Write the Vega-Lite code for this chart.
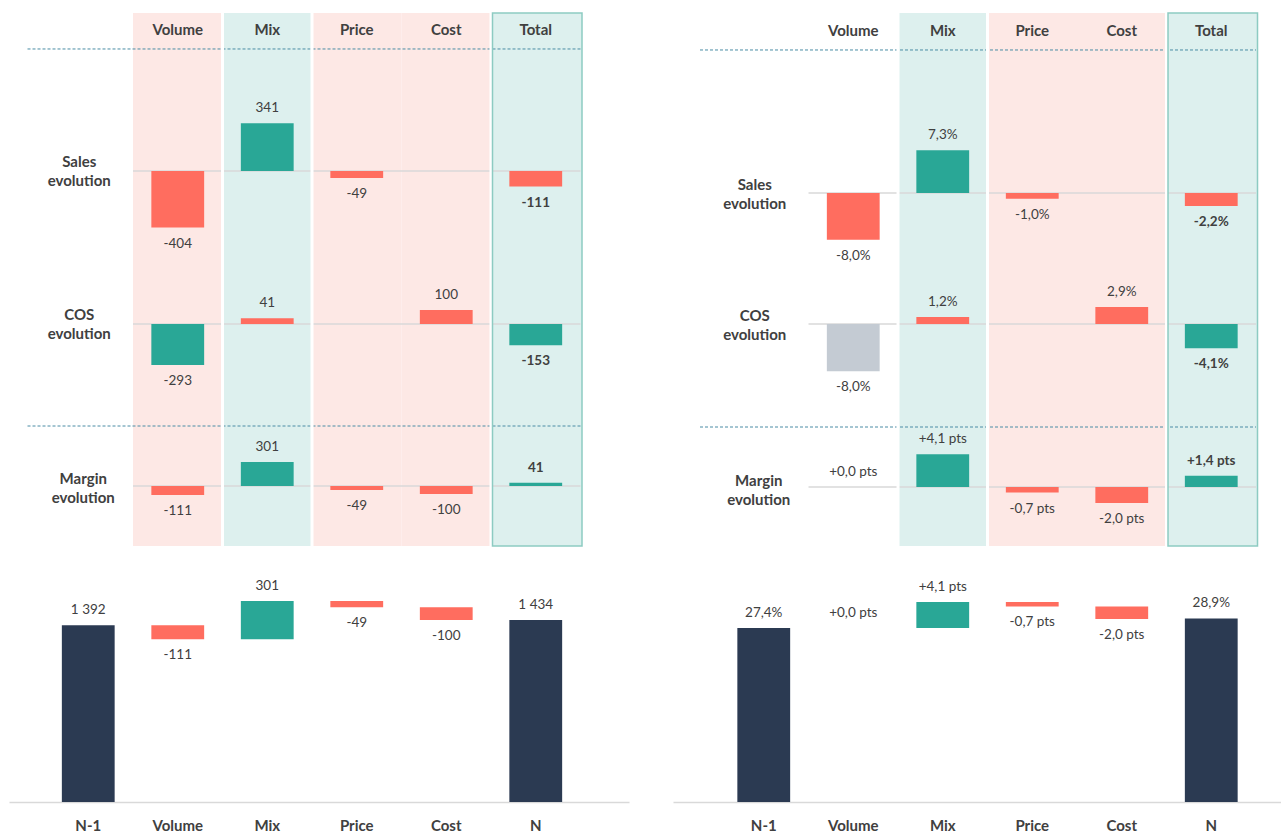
{
"$schema":"https://vega.github.io/schema/vega-lite/v6.json",
"padding":{"left":9,"top":11,"right":0,"bottom":0},
"background":"#ffffff",
"config":{"view":{"stroke":null},"font":"Lato"},
"datasets":{
"topL":[
{"row":"Sales","col":"Volume","v":-404,"label":"-404","tone":"bad"},
{"row":"Sales","col":"Mix","v":341,"label":"341","tone":"good"},
{"row":"Sales","col":"Price","v":-49,"label":"-49","tone":"bad"},
{"row":"Sales","col":"Total","v":-111,"label":"-111","tone":"bad"},
{"row":"COS","col":"Volume","v":-293,"label":"-293","tone":"good"},
{"row":"COS","col":"Mix","v":41,"label":"41","tone":"bad"},
{"row":"COS","col":"Cost","v":100,"label":"100","tone":"bad"},
{"row":"COS","col":"Total","v":-153,"label":"-153","tone":"good"},
{"row":"Margin","col":"Volume","v":-111,"label":"-111","tone":"bad"},
{"row":"Margin","col":"Mix","v":301,"label":"301","tone":"good"},
{"row":"Margin","col":"Price","v":-49,"label":"-49","tone":"bad"},
{"row":"Margin","col":"Cost","v":-100,"label":"-100","tone":"bad"},
{"row":"Margin","col":"Total","v":41,"label":"41","tone":"good"}
],
"topR":[
{"row":"Sales","col":"Volume","v":-8.0,"label":"-8,0%","tone":"bad"},
{"row":"Sales","col":"Mix","v":7.3,"label":"7,3%","tone":"good"},
{"row":"Sales","col":"Price","v":-1.0,"label":"-1,0%","tone":"bad"},
{"row":"Sales","col":"Total","v":-2.2,"label":"-2,2%","tone":"bad"},
{"row":"COS","col":"Volume","v":-8.0,"label":"-8,0%","tone":"neutral"},
{"row":"COS","col":"Mix","v":1.2,"label":"1,2%","tone":"bad"},
{"row":"COS","col":"Cost","v":2.9,"label":"2,9%","tone":"bad"},
{"row":"COS","col":"Total","v":-4.1,"label":"-4,1%","tone":"good"},
{"row":"Margin","col":"Volume","v":0,"label":"+0,0 pts","tone":"neutral"},
{"row":"Margin","col":"Mix","v":4.1,"label":"+4,1 pts","tone":"good"},
{"row":"Margin","col":"Price","v":-0.7,"label":"-0,7 pts","tone":"bad"},
{"row":"Margin","col":"Cost","v":-2.0,"label":"-2,0 pts","tone":"bad"},
{"row":"Margin","col":"Total","v":1.4,"label":"+1,4 pts","tone":"good"}
],
"heads":[{"col":"Volume"},{"col":"Mix"},{"col":"Price"},{"col":"Cost"},{"col":"Total"}],
"botL":[
{"cat":"N-1","start":0,"end":1392,"delta":1392,"label":"1 392","tone":"base"},
{"cat":"Volume","start":1392,"end":1281,"delta":-111,"label":"-111","tone":"bad"},
{"cat":"Mix","start":1281,"end":1582,"delta":301,"label":"301","tone":"good"},
{"cat":"Price","start":1582,"end":1533,"delta":-49,"label":"-49","tone":"bad"},
{"cat":"Cost","start":1533,"end":1433,"delta":-100,"label":"-100","tone":"bad"},
{"cat":"N","start":0,"end":1434,"delta":1434,"label":"1 434","tone":"base"}
],
"botR":[
{"cat":"N-1","start":0,"end":27.4,"delta":27.4,"label":"27,4%","tone":"base"},
{"cat":"Volume","start":27.4,"end":27.4,"delta":0,"label":"+0,0 pts","tone":"neutral"},
{"cat":"Mix","start":27.4,"end":31.5,"delta":4.1,"label":"+4,1 pts","tone":"good"},
{"cat":"Price","start":31.5,"end":30.8,"delta":-0.7,"label":"-0,7 pts","tone":"bad"},
{"cat":"Cost","start":30.8,"end":28.8,"delta":-2.0,"label":"-2,0 pts","tone":"bad"},
{"cat":"N","start":0,"end":28.9,"delta":28.9,"label":"28,9%","tone":"base"}
]
},
"spacing":24,
"vconcat":[
{"spacing":44,"hconcat":[
{
"width":620,"height":533,
"resolve":{"scale":{"y":"independent"}},
"layer":[
{"data":{"values":[{"col":"Volume"},{"col":"Price"},{"col":"Cost"}]},"mark":{"type":"rect","fill":"#FDE8E5"},
 "encoding":{"x":{"field":"col","type":"nominal","scale":{"domain":["lbl","Volume","Mix","Price","Cost","Total"],"paddingInner":0,"paddingOuter":0.4637,"align":0.4157},"axis":null}}},
{"data":{"values":[{"col":"Mix"}]},"mark":{"type":"rect","fill":"#DDF0EE"},"encoding":{"x":{"field":"col","type":"nominal","axis":null}}},
{"data":{"values":[{"col":"Total"}]},"mark":{"type":"rect","fill":"#DDF0EE","xOffset":1.5},"encoding":{"x":{"field":"col","type":"nominal","axis":null}}},
{"data":{"name":"topL"},"transform":[{"filter":"datum.row == 'Sales'"}],"layer":[
 {"data":{"values":[{}]},"mark":{"type":"rule","stroke":"#D9D9D9","strokeWidth":1.5},"encoding":{"x":{"datum":"Volume","type":"nominal","bandPosition":0,"axis":null},"x2":{"datum":"Total","bandPosition":1},"y":{"datum":0,"type":"quantitative","scale":{"domain":[-2679,1129],"nice":false,"zero":false},"axis":null}}},
 {"data":{"values":[{}]},"mark":{"type":"rule","stroke":"#4A8CA5","strokeWidth":1,"strokeDash":[3,2],"xOffset":-16},"encoding":{"x":{"datum":"lbl","type":"nominal","bandPosition":0,"axis":null},"x2":{"datum":"Total","bandPosition":1},"y":{"datum":872,"type":"quantitative","scale":{"domain":[-2679,1129],"nice":false,"zero":false},"axis":null}}},
 {"data":{"name":"heads"},"mark":{"type":"text","font":"Lato","fontSize":15,"fontWeight":"bold","fill":"#404040","align":"center","baseline":"middle"},"encoding":{"x":{"field":"col","type":"nominal","axis":null},"y":{"datum":1007.5,"type":"quantitative","axis":null},"text":{"field":"col"}}},
 {"mark":{"type":"bar","width":{"band":0.59}},"encoding":{"x":{"field":"col","type":"nominal","axis":null},"y":{"field":"v","type":"quantitative","scale":{"domain":[-2679,1129],"nice":false,"zero":false},"axis":null},"color":{"field":"tone","type":"nominal","scale":{"domain":["bad","good","neutral","base"],"range":["#FF6D5F","#29A796","#C4CBD3","#2B3A52"]},"legend":null}}},
 {"transform":[{"filter":"datum.v >= 0 && datum.col != 'Total'"}],"mark":{"type":"text","font":"Lato","fontSize":13.5,"fill":"#404040","align":"center","baseline":"middle","dy":-15},"encoding":{"x":{"field":"col","type":"nominal","axis":null},"y":{"field":"v","type":"quantitative","axis":null},"text":{"field":"label"}}},
 {"transform":[{"filter":"datum.v < 0 && datum.col != 'Total'"}],"mark":{"type":"text","font":"Lato","fontSize":13.5,"fill":"#404040","align":"center","baseline":"middle","dy":16},"encoding":{"x":{"field":"col","type":"nominal","axis":null},"y":{"field":"v","type":"quantitative","axis":null},"text":{"field":"label"}}},
 {"transform":[{"filter":"datum.col == 'Total'"}],"mark":{"type":"text","font":"Lato","fontSize":13.5,"fontWeight":"bold","fill":"#404040","align":"center","baseline":"middle","dy":16},"encoding":{"x":{"field":"col","type":"nominal","axis":null},"y":{"field":"v","type":"quantitative","axis":null},"text":{"field":"label"}}},
 {"data":{"values":[{}]},"mark":{"type":"text","font":"Lato","fontSize":15,"fontWeight":"bold","fill":"#404040","align":"center","baseline":"middle","lineHeight":19,"dx":-9,"dy":-9},"encoding":{"x":{"datum":"lbl","type":"nominal","axis":null},"y":{"datum":0,"type":"quantitative","axis":null},"text":{"value":["Sales","evolution"]}}}
]},
{"data":{"name":"topL"},"transform":[{"filter":"datum.row == 'COS'"}],"layer":[
 {"data":{"values":[{}]},"mark":{"type":"rule","stroke":"#D9D9D9","strokeWidth":1.5},"encoding":{"x":{"datum":"Volume","type":"nominal","bandPosition":0,"axis":null},"x2":{"datum":"Total","bandPosition":1},"y":{"datum":0,"type":"quantitative","scale":{"domain":[-1586,2221],"nice":false,"zero":false},"axis":null}}},
 {"mark":{"type":"bar","width":{"band":0.59}},"encoding":{"x":{"field":"col","type":"nominal","axis":null},"y":{"field":"v","type":"quantitative","scale":{"domain":[-1586,2221],"nice":false,"zero":false},"axis":null},"color":{"field":"tone","type":"nominal","scale":{"domain":["bad","good","neutral","base"],"range":["#FF6D5F","#29A796","#C4CBD3","#2B3A52"]},"legend":null}}},
 {"transform":[{"filter":"datum.v >= 0 && datum.col != 'Total'"}],"mark":{"type":"text","font":"Lato","fontSize":13.5,"fill":"#404040","align":"center","baseline":"middle","dy":-15},"encoding":{"x":{"field":"col","type":"nominal","axis":null},"y":{"field":"v","type":"quantitative","axis":null},"text":{"field":"label"}}},
 {"transform":[{"filter":"datum.v < 0 && datum.col != 'Total'"}],"mark":{"type":"text","font":"Lato","fontSize":13.5,"fill":"#404040","align":"center","baseline":"middle","dy":16},"encoding":{"x":{"field":"col","type":"nominal","axis":null},"y":{"field":"v","type":"quantitative","axis":null},"text":{"field":"label"}}},
 {"transform":[{"filter":"datum.col == 'Total'"}],"mark":{"type":"text","font":"Lato","fontSize":13.5,"fontWeight":"bold","fill":"#404040","align":"center","baseline":"middle","dy":16},"encoding":{"x":{"field":"col","type":"nominal","axis":null},"y":{"field":"v","type":"quantitative","axis":null},"text":{"field":"label"}}},
 {"data":{"values":[{}]},"mark":{"type":"text","font":"Lato","fontSize":15,"fontWeight":"bold","fill":"#404040","align":"center","baseline":"middle","lineHeight":19,"dx":-9,"dy":-9},"encoding":{"x":{"datum":"lbl","type":"nominal","axis":null},"y":{"datum":0,"type":"quantitative","axis":null},"text":{"value":["COS","evolution"]}}}
]},
{"data":{"name":"topL"},"transform":[{"filter":"datum.row == 'Margin'"}],"layer":[
 {"data":{"values":[{}]},"mark":{"type":"rule","stroke":"#D9D9D9","strokeWidth":1.5},"encoding":{"x":{"datum":"Volume","type":"nominal","bandPosition":0,"axis":null},"x2":{"datum":"Total","bandPosition":1},"y":{"datum":0,"type":"quantitative","scale":{"domain":[-750,5913],"nice":false,"zero":false},"axis":null}}},
 {"data":{"values":[{}]},"mark":{"type":"rule","stroke":"#4A8CA5","strokeWidth":1,"strokeDash":[3,2],"xOffset":-16},"encoding":{"x":{"datum":"lbl","type":"nominal","bandPosition":0,"axis":null},"x2":{"datum":"Total","bandPosition":1},"y":{"datum":750,"type":"quantitative","scale":{"domain":[-750,5913],"nice":false,"zero":false},"axis":null}}},
 {"mark":{"type":"bar","width":{"band":0.59}},"encoding":{"x":{"field":"col","type":"nominal","axis":null},"y":{"field":"v","type":"quantitative","scale":{"domain":[-750,5913],"nice":false,"zero":false},"axis":null},"color":{"field":"tone","type":"nominal","scale":{"domain":["bad","good","neutral","base"],"range":["#FF6D5F","#29A796","#C4CBD3","#2B3A52"]},"legend":null}}},
 {"transform":[{"filter":"datum.v >= 0 && datum.col != 'Total'"}],"mark":{"type":"text","font":"Lato","fontSize":13.5,"fill":"#404040","align":"center","baseline":"middle","dy":-15},"encoding":{"x":{"field":"col","type":"nominal","axis":null},"y":{"field":"v","type":"quantitative","axis":null},"text":{"field":"label"}}},
 {"transform":[{"filter":"datum.v < 0 && datum.col != 'Total'"}],"mark":{"type":"text","font":"Lato","fontSize":13.5,"fill":"#404040","align":"center","baseline":"middle","dy":16},"encoding":{"x":{"field":"col","type":"nominal","axis":null},"y":{"field":"v","type":"quantitative","axis":null},"text":{"field":"label"}}},
 {"transform":[{"filter":"datum.col == 'Total'"}],"mark":{"type":"text","font":"Lato","fontSize":13.5,"fontWeight":"bold","fill":"#404040","align":"center","baseline":"middle","dy":-15},"encoding":{"x":{"field":"col","type":"nominal","axis":null},"y":{"field":"v","type":"quantitative","axis":null},"text":{"field":"label"}}},
 {"data":{"values":[{}]},"mark":{"type":"text","font":"Lato","fontSize":15,"fontWeight":"bold","fill":"#404040","align":"center","baseline":"middle","lineHeight":19,"dx":-5,"dy":-7},"encoding":{"x":{"datum":"lbl","type":"nominal","axis":null},"y":{"datum":0,"type":"quantitative","axis":null},"text":{"value":["Margin","evolution"]}}}
]},
{"data":{"values":[{"col":"Mix"},{"col":"Price"},{"col":"Total"}]},"mark":{"type":"rule","stroke":"#ffffff","strokeWidth":3},"encoding":{"x":{"field":"col","type":"nominal","bandPosition":0,"axis":null}}},
{"data":{"values":[{"col":"Total"}]},"mark":{"type":"rect","fill":"transparent","stroke":"#8DCBC2","strokeWidth":1.5,"xOffset":1.5},"encoding":{"x":{"field":"col","type":"nominal","axis":null}}}
]
},
{
"width":608,"height":533,
"resolve":{"scale":{"y":"independent"}},
"layer":[
{"data":{"values":[{"col":"Price"},{"col":"Cost"}]},"mark":{"type":"rect","fill":"#FDE8E5"},
 "encoding":{"x":{"field":"col","type":"nominal","scale":{"domain":["lbl","Volume","Mix","Price","Cost","Total"],"paddingInner":0,"paddingOuter":0.3966,"align":0.648},"axis":null}}},
{"data":{"values":[{"col":"Mix"}]},"mark":{"type":"rect","fill":"#DDF0EE"},"encoding":{"x":{"field":"col","type":"nominal","axis":null}}},
{"data":{"values":[{"col":"Total"}]},"mark":{"type":"rect","fill":"#DDF0EE","xOffset":1.5},"encoding":{"x":{"field":"col","type":"nominal","axis":null}}},
{"data":{"name":"topR"},"transform":[{"filter":"datum.row == 'Sales'"}],"layer":[
 {"data":{"values":[{}]},"mark":{"type":"rule","stroke":"#D9D9D9","strokeWidth":1.5},"encoding":{"x":{"datum":"Volume","type":"nominal","bandPosition":0,"axis":null},"x2":{"datum":"Total","bandPosition":1},"y":{"datum":0,"type":"quantitative","scale":{"domain":[-60.34,30.77],"nice":false,"zero":false},"axis":null}}},
 {"data":{"values":[{}]},"mark":{"type":"rule","stroke":"#4A8CA5","strokeWidth":1,"strokeDash":[3,2],"xOffset":-19},"encoding":{"x":{"datum":"lbl","type":"nominal","bandPosition":0,"axis":null},"x2":{"datum":"Total","bandPosition":1},"y":{"datum":24.45,"type":"quantitative","scale":{"domain":[-60.34,30.77],"nice":false,"zero":false},"axis":null}}},
 {"data":{"name":"heads"},"mark":{"type":"text","font":"Lato","fontSize":15,"fontWeight":"bold","fill":"#404040","align":"center","baseline":"middle"},"encoding":{"x":{"field":"col","type":"nominal","axis":null},"y":{"datum":27.69,"type":"quantitative","axis":null},"text":{"field":"col"}}},
 {"mark":{"type":"bar","width":{"band":0.59}},"encoding":{"x":{"field":"col","type":"nominal","axis":null},"y":{"field":"v","type":"quantitative","scale":{"domain":[-60.34,30.77],"nice":false,"zero":false},"axis":null},"color":{"field":"tone","type":"nominal","scale":{"domain":["bad","good","neutral","base"],"range":["#FF6D5F","#29A796","#C4CBD3","#2B3A52"]},"legend":null}}},
 {"transform":[{"filter":"datum.v >= 0 && datum.col != 'Total'"}],"mark":{"type":"text","font":"Lato","fontSize":13.5,"fill":"#404040","align":"center","baseline":"middle","dy":-15},"encoding":{"x":{"field":"col","type":"nominal","axis":null},"y":{"field":"v","type":"quantitative","axis":null},"text":{"field":"label"}}},
 {"transform":[{"filter":"datum.v < 0 && datum.col != 'Total'"}],"mark":{"type":"text","font":"Lato","fontSize":13.5,"fill":"#404040","align":"center","baseline":"middle","dy":16},"encoding":{"x":{"field":"col","type":"nominal","axis":null},"y":{"field":"v","type":"quantitative","axis":null},"text":{"field":"label"}}},
 {"transform":[{"filter":"datum.col == 'Total'"}],"mark":{"type":"text","font":"Lato","fontSize":13.5,"fontWeight":"bold","fill":"#404040","align":"center","baseline":"middle","dy":16},"encoding":{"x":{"field":"col","type":"nominal","axis":null},"y":{"field":"v","type":"quantitative","axis":null},"text":{"field":"label"}}},
 {"data":{"values":[{}]},"mark":{"type":"text","font":"Lato","fontSize":15,"fontWeight":"bold","fill":"#404040","align":"center","baseline":"middle","lineHeight":19,"dx":-9,"dy":-8},"encoding":{"x":{"datum":"lbl","type":"nominal","axis":null},"y":{"datum":0,"type":"quantitative","axis":null},"text":{"value":["Sales","evolution"]}}}
]},
{"data":{"name":"topR"},"transform":[{"filter":"datum.row == 'COS'"}],"layer":[
 {"data":{"values":[{}]},"mark":{"type":"rule","stroke":"#D9D9D9","strokeWidth":1.5},"encoding":{"x":{"datum":"Volume","type":"nominal","bandPosition":0,"axis":null},"x2":{"datum":"Total","bandPosition":1},"y":{"datum":0,"type":"quantitative","scale":{"domain":[-37.63,52.71],"nice":false,"zero":false},"axis":null}}},
 {"mark":{"type":"bar","width":{"band":0.59}},"encoding":{"x":{"field":"col","type":"nominal","axis":null},"y":{"field":"v","type":"quantitative","scale":{"domain":[-37.63,52.71],"nice":false,"zero":false},"axis":null},"color":{"field":"tone","type":"nominal","scale":{"domain":["bad","good","neutral","base"],"range":["#FF6D5F","#29A796","#C4CBD3","#2B3A52"]},"legend":null}}},
 {"transform":[{"filter":"datum.v >= 0 && datum.col != 'Total'"}],"mark":{"type":"text","font":"Lato","fontSize":13.5,"fill":"#404040","align":"center","baseline":"middle","dy":-15},"encoding":{"x":{"field":"col","type":"nominal","axis":null},"y":{"field":"v","type":"quantitative","axis":null},"text":{"field":"label"}}},
 {"transform":[{"filter":"datum.v < 0 && datum.col != 'Total'"}],"mark":{"type":"text","font":"Lato","fontSize":13.5,"fill":"#404040","align":"center","baseline":"middle","dy":16},"encoding":{"x":{"field":"col","type":"nominal","axis":null},"y":{"field":"v","type":"quantitative","axis":null},"text":{"field":"label"}}},
 {"transform":[{"filter":"datum.col == 'Total'"}],"mark":{"type":"text","font":"Lato","fontSize":13.5,"fontWeight":"bold","fill":"#404040","align":"center","baseline":"middle","dy":16},"encoding":{"x":{"field":"col","type":"nominal","axis":null},"y":{"field":"v","type":"quantitative","axis":null},"text":{"field":"label"}}},
 {"data":{"values":[{}]},"mark":{"type":"text","font":"Lato","fontSize":15,"fontWeight":"bold","fill":"#404040","align":"center","baseline":"middle","lineHeight":19,"dx":-9,"dy":-8},"encoding":{"x":{"datum":"lbl","type":"nominal","axis":null},"y":{"datum":0,"type":"quantitative","axis":null},"text":{"value":["COS","evolution"]}}}
]},
{"data":{"name":"topR"},"transform":[{"filter":"datum.row == 'Margin'"}],"layer":[
 {"data":{"values":[{}]},"mark":{"type":"rule","stroke":"#D9D9D9","strokeWidth":1.5},"encoding":{"x":{"datum":"Volume","type":"nominal","bandPosition":0,"axis":null},"x2":{"datum":"Total","bandPosition":1},"y":{"datum":0,"type":"quantitative","scale":{"domain":[-7.375,59.25],"nice":false,"zero":false},"axis":null}}},
 {"data":{"values":[{}]},"mark":{"type":"rule","stroke":"#4A8CA5","strokeWidth":1,"strokeDash":[3,2],"xOffset":-19},"encoding":{"x":{"datum":"lbl","type":"nominal","bandPosition":0,"axis":null},"x2":{"datum":"Total","bandPosition":1},"y":{"datum":7.5,"type":"quantitative","scale":{"domain":[-7.375,59.25],"nice":false,"zero":false},"axis":null}}},
 {"mark":{"type":"bar","width":{"band":0.59}},"encoding":{"x":{"field":"col","type":"nominal","axis":null},"y":{"field":"v","type":"quantitative","scale":{"domain":[-7.375,59.25],"nice":false,"zero":false},"axis":null},"color":{"field":"tone","type":"nominal","scale":{"domain":["bad","good","neutral","base"],"range":["#FF6D5F","#29A796","#C4CBD3","#2B3A52"]},"legend":null}}},
 {"transform":[{"filter":"datum.v >= 0 && datum.col != 'Total'"}],"mark":{"type":"text","font":"Lato","fontSize":13.5,"fill":"#404040","align":"center","baseline":"middle","dy":-15},"encoding":{"x":{"field":"col","type":"nominal","axis":null},"y":{"field":"v","type":"quantitative","axis":null},"text":{"field":"label"}}},
 {"transform":[{"filter":"datum.v < 0 && datum.col != 'Total'"}],"mark":{"type":"text","font":"Lato","fontSize":13.5,"fill":"#404040","align":"center","baseline":"middle","dy":16},"encoding":{"x":{"field":"col","type":"nominal","axis":null},"y":{"field":"v","type":"quantitative","axis":null},"text":{"field":"label"}}},
 {"transform":[{"filter":"datum.col == 'Total'"}],"mark":{"type":"text","font":"Lato","fontSize":13.5,"fontWeight":"bold","fill":"#404040","align":"center","baseline":"middle","dy":-15},"encoding":{"x":{"field":"col","type":"nominal","axis":null},"y":{"field":"v","type":"quantitative","axis":null},"text":{"field":"label"}}},
 {"data":{"values":[{}]},"mark":{"type":"text","font":"Lato","fontSize":15,"fontWeight":"bold","fill":"#404040","align":"center","baseline":"middle","lineHeight":19,"dx":-5,"dy":-6},"encoding":{"x":{"datum":"lbl","type":"nominal","axis":null},"y":{"datum":0,"type":"quantitative","axis":null},"text":{"value":["Margin","evolution"]}}}
]},
{"data":{"values":[{"col":"Mix"},{"col":"Price"},{"col":"Total"}]},"mark":{"type":"rule","stroke":"#ffffff","strokeWidth":3},"encoding":{"x":{"field":"col","type":"nominal","bandPosition":0,"axis":null}}},
{"data":{"values":[{"col":"Total"}]},"mark":{"type":"rect","fill":"transparent","stroke":"#8DCBC2","strokeWidth":1.5,"xOffset":1.5},"encoding":{"x":{"field":"col","type":"nominal","axis":null}}}
]
}
]},
{"spacing":44,"hconcat":[
{
"width":620,"height":230,
"data":{"name":"botL"},
"encoding":{"x":{"field":"cat","type":"nominal","scale":{"domain":["N-1","Volume","Mix","Price","Cost","N"],"paddingInner":0,"paddingOuter":0.4637,"align":0.4157},
 "axis":{"orient":"bottom","domain":true,"domainColor":"#D9D9D9","domainWidth":1.5,"ticks":false,"tickSize":0,"grid":false,"labelPadding":16,"labelAngle":0,"labelFont":"Lato","labelFontSize":15,"labelFontWeight":"bold","labelColor":"#404040","labelOverlap":false,"title":null}}},
"layer":[
 {"mark":{"type":"bar","width":{"band":0.59}},"encoding":{"y":{"field":"start","type":"quantitative","scale":{"domain":[0,1811],"nice":false,"zero":false},"axis":null},"y2":{"field":"end"},"color":{"field":"tone","type":"nominal","scale":{"domain":["bad","good","neutral","base"],"range":["#FF6D5F","#29A796","#C4CBD3","#2B3A52"]},"legend":null}}},
 {"transform":[{"filter":"datum.delta >= 0"}],"mark":{"type":"text","font":"Lato","fontSize":13.5,"fill":"#404040","align":"center","baseline":"middle","dy":-15},"encoding":{"y":{"field":"end","type":"quantitative","axis":null},"text":{"field":"label"}}},
 {"transform":[{"filter":"datum.delta < 0"}],"mark":{"type":"text","font":"Lato","fontSize":13.5,"fill":"#404040","align":"center","baseline":"middle","dy":16},"encoding":{"y":{"field":"end","type":"quantitative","axis":null},"text":{"field":"label"}}}
]
},
{
"width":608,"height":230,
"data":{"name":"botR"},
"encoding":{"x":{"field":"cat","type":"nominal","scale":{"domain":["N-1","Volume","Mix","Price","Cost","N"],"paddingInner":0,"paddingOuter":0.3966,"align":0.648},
 "axis":{"orient":"bottom","domain":true,"domainColor":"#D9D9D9","domainWidth":1.5,"ticks":false,"tickSize":0,"grid":false,"labelPadding":16,"labelAngle":0,"labelFont":"Lato","labelFontSize":15,"labelFontWeight":"bold","labelColor":"#404040","labelOverlap":false,"title":null}}},
"layer":[
 {"mark":{"type":"bar","width":{"band":0.59}},"encoding":{"y":{"field":"start","type":"quantitative","scale":{"domain":[0,36.22],"nice":false,"zero":false},"axis":null},"y2":{"field":"end"},"color":{"field":"tone","type":"nominal","scale":{"domain":["bad","good","neutral","base"],"range":["#FF6D5F","#29A796","#C4CBD3","#2B3A52"]},"legend":null}}},
 {"transform":[{"filter":"datum.delta >= 0"}],"mark":{"type":"text","font":"Lato","fontSize":13.5,"fill":"#404040","align":"center","baseline":"middle","dy":-15},"encoding":{"y":{"field":"end","type":"quantitative","axis":null},"text":{"field":"label"}}},
 {"transform":[{"filter":"datum.delta < 0"}],"mark":{"type":"text","font":"Lato","fontSize":13.5,"fill":"#404040","align":"center","baseline":"middle","dy":16},"encoding":{"y":{"field":"end","type":"quantitative","axis":null},"text":{"field":"label"}}}
]
}
]}
]
}
